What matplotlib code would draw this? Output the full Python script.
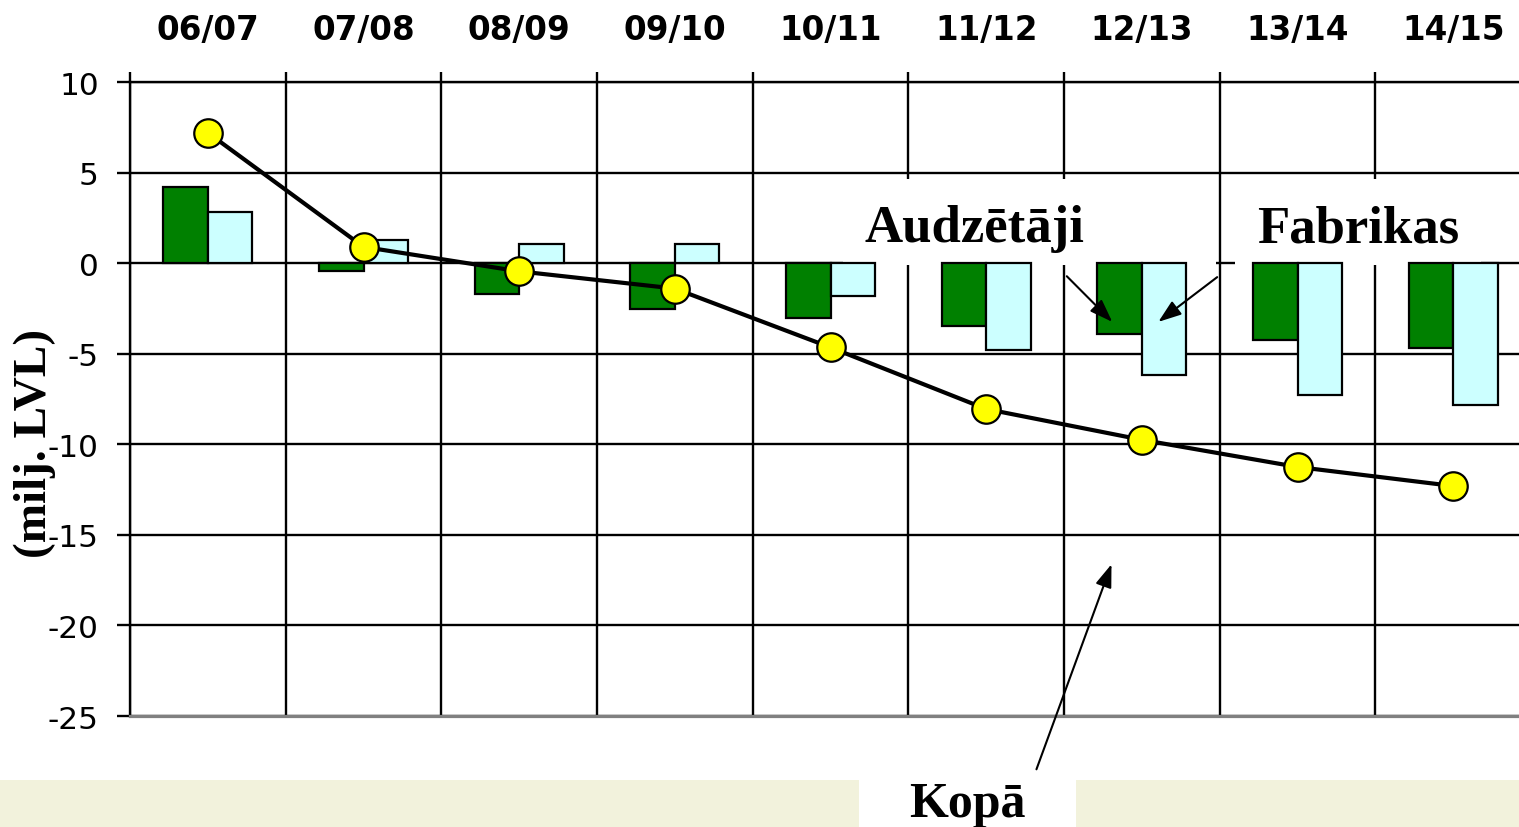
import numpy as np
import matplotlib.pyplot as plt
from matplotlib.patches import Rectangle

plt.rcParams['axes.unicode_minus'] = False

# sezonas un vērtības (milj. LVL)
seasons = ['06/07', '07/08', '08/09', '09/10', '10/11', '11/12', '12/13', '13/14', '14/15']
audzetaji = [4.2, -0.45, -1.7, -2.55, -3.0, -3.45, -3.9, -4.25, -4.7]
fabrikas = [2.8, 1.3, 1.05, 1.05, -1.8, -4.8, -6.2, -7.25, -7.85]
kopa = [7.2, 0.9, -0.45, -1.4, -4.65, -8.05, -9.75, -11.25, -12.3]
y_ticks = [-25, -20, -15, -10, -5, 0, 5, 10]

serif = 'Liberation Serif'

x = np.arange(len(seasons))
w = 0.286

fig = plt.figure(figsize=(15.19, 8.28), dpi=100)
ax = fig.add_axes([0.0856, 0.134, 0.9223, 0.7657])

# stabiņi
ax.bar(x - w / 2, audzetaji, w, color='#008000', edgecolor='black', linewidth=1.6, zorder=3)
ax.bar(x + w / 2, fabrikas, w, color='#CCFFFF', edgecolor='black', linewidth=1.6, zorder=3)

# kopā līnija
ax.plot(x, kopa, color='black', lw=3, marker='o', ms=20.5,
        mfc='#FFFF00', mec='black', mew=1.6, zorder=5)

ax.set_xlim(-0.5, 8.5)
ax.set_ylim(-25, 10)
ax.set_yticks(y_ticks)

# x ass augšā: robežas kā major, nosaukumi kā minor
ax.set_xticks(np.arange(-0.5, 9.0, 1.0))
ax.set_xticks(x, minor=True)
ax.set_xticklabels(seasons, minor=True)
ax.xaxis.tick_top()
ax.tick_params(axis='x', which='major', labeltop=False, length=7, width=1.7, direction='out')
ax.tick_params(axis='x', which='minor', length=0, pad=26, labelsize=23.5)
for lbl in ax.get_xticklabels(minor=True):
    lbl.set_fontweight('bold')
ax.tick_params(axis='y', length=9.4, width=1.7, labelsize=22.5, pad=13)

ax.set_axisbelow(True)
ax.grid(True, which='major', color='black', lw=1.7)

for side in ['top', 'left']:
    ax.spines[side].set_linewidth(1.7)
    ax.spines[side].set_color('black')
ax.spines['right'].set_visible(False)
ax.spines['bottom'].set_color('#808080')
ax.spines['bottom'].set_linewidth(2.3)

fig.text(35 / 1519, 1 - 443 / 828, '(milj. LVL)', rotation=90, ha='center', va='center',
         family=serif, weight='bold', size=34)

# baltie laukumi zem uzrakstiem
ax.add_patch(Rectangle((4.08, -0.1), 6.475 - 4.08, 4.75, facecolor='white', edgecolor='none', zorder=1))
ax.add_patch(Rectangle((6.60, -0.1), 8.18 - 6.60, 4.75, facecolor='white', edgecolor='none', zorder=1))

ax.text(4.927, 1.21, 'Audzētāji', ha='center', va='baseline', family=serif, weight='bold', size=38, zorder=6)
ax.text(7.39, 1.21, 'Fabrikas', ha='center', va='baseline', family=serif, weight='bold', size=38, zorder=6)

arrow = dict(arrowstyle='-|>,head_length=0.7,head_width=0.25', mutation_scale=20,
             color='black', lw=1.5, shrinkA=0, shrinkB=0)
ax.annotate('', xy=(5.81, -3.24), xytext=(5.518, -0.72), arrowprops=arrow, zorder=6)
ax.annotate('', xy=(6.106, -3.24), xytext=(6.484, -0.77), arrowprops=arrow, zorder=6)
ax.annotate('', xy=(5.805, -16.62), xytext=(5.323, -27.94), arrowprops=arrow, zorder=6,
            annotation_clip=False)

# bēšā josla apakšā
fig.add_artist(Rectangle((0, 0), 859 / 1519, 47 / 828, transform=fig.transFigure,
                         facecolor='#F2F2DC', edgecolor='none', zorder=0))
fig.add_artist(Rectangle((1076 / 1519, 0), 1 - 1076 / 1519, 47 / 828, transform=fig.transFigure,
                         facecolor='#F2F2DC', edgecolor='none', zorder=0))
fig.text(967 / 1519, 11 / 828, 'Kopā', ha='center', va='baseline', family=serif, weight='bold', size=36)

fig.savefig('out.png', dpi=100)
